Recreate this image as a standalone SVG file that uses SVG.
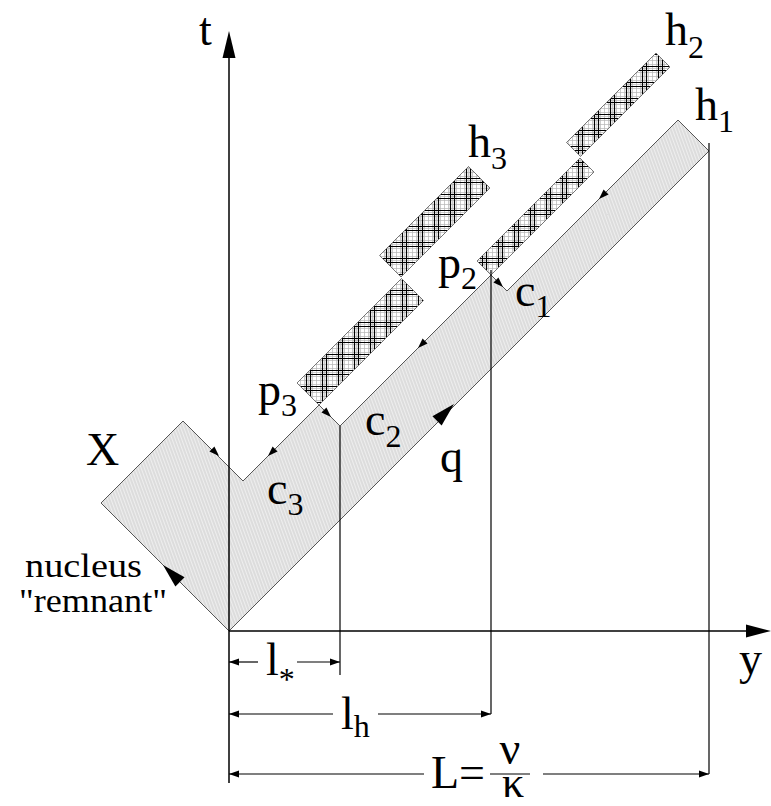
<svg xmlns="http://www.w3.org/2000/svg" width="771" height="806" viewBox="0 0 771 806">
<style>
.lbl{font-size:46px;fill:#000}
.sub{font-size:32px}
.ax{stroke:#000;stroke-width:1.5;fill:none}
.dim{stroke:#000;stroke-width:1.2;fill:none}
.region{fill:url(#gray);stroke:#555;stroke-width:1}
.bar{fill:url(#hatch);stroke:#777;stroke-width:1}
.ah{fill:#000}
</style>
<defs>
<pattern id="gray" patternUnits="userSpaceOnUse" width="3" height="3" patternTransform="rotate(-20)">
<rect width="3" height="3" fill="#eeeeee"/>
<line x1="1" y1="0" x2="1" y2="3" stroke="#c2c2c2" stroke-width="0.8"/>
</pattern>
<pattern id="hatch" patternUnits="userSpaceOnUse" width="16" height="16">
<rect width="16" height="16" fill="#fff"/>
<path d="M0.5 0V16M4.5 0V16M8.5 0V16M12.5 0V16M0 0.5H16M0 4.5H16M0 8.5H16M0 12.5H16" stroke="#b5b5b5" stroke-width="0.7"/>
<path d="M2.5 0V16M6.5 0V16M0 2.5H16M0 6.5H16" stroke="#000" stroke-width="1.2"/>
</pattern>
<path id="sa" d="M0,0 L-10,-3.5 L-10,3.5 Z"/>
<path id="ba" d="M0,0 L-24,-6.5 L-24,6.5 Z"/>
</defs>

<g id="region">
<polygon class="region" points="229,631 101,503 183,421 243,481 319,405 340,426 491,275 507,291 678,120 709,151"/>
</g>

<g id="bar-h2-upper"><polygon class="bar" points="656,53 670,67 580.5,156.5 566.5,142.5"/></g>
<g id="bar-h2-lower"><polygon class="bar" points="580,158 594,172 491,275 477,261"/></g>
<g id="bar-h3-upper"><polygon class="bar" points="468.5,166.5 490,188 401,277 379.5,255.5"/></g>
<g id="bar-h3-lower"><polygon class="bar" points="401.5,278.5 423.5,300.5 319,405 297,383"/></g>

<g id="axes">
<line class="ax" x1="229" y1="783" x2="229" y2="56"/>
<polygon class="ah" points="229,31 222.5,58 235.5,58"/>
<line class="ax" x1="229" y1="631" x2="748" y2="631"/>
<polygon class="ah" points="771,631 746,624.5 746,637.5"/>
</g>

<g id="connectors">
<line class="dim" x1="340" y1="426" x2="340" y2="675"/>
<line class="dim" x1="491" y1="270" x2="491" y2="714"/>
<line class="dim" x1="709" y1="143" x2="709" y2="774"/>
<line class="dim" x1="229" y1="662" x2="258" y2="662"/>
<line class="dim" x1="297" y1="662" x2="340" y2="662"/>
<use class="ah" href="#sa" transform="translate(229,662) rotate(180)"/>
<use class="ah" href="#sa" transform="translate(340,662)"/>
<line class="dim" x1="229" y1="714" x2="333" y2="714"/>
<line class="dim" x1="378" y1="714" x2="491" y2="714"/>
<use class="ah" href="#sa" transform="translate(229,714) rotate(180)"/>
<use class="ah" href="#sa" transform="translate(491,714)"/>
<line class="dim" x1="229" y1="774" x2="424" y2="774"/>
<line class="dim" x1="543" y1="774" x2="709" y2="774"/>
<use class="ah" href="#sa" transform="translate(229,774) rotate(180)"/>
<use class="ah" href="#sa" transform="translate(709,774)"/>
<use class="ah" href="#sa" transform="translate(599,199) rotate(135)"/>
<use class="ah" href="#sa" transform="translate(418,348) rotate(135)"/>
<use class="ah" href="#sa" transform="translate(503,287) rotate(45)"/>
<use class="ah" href="#sa" transform="translate(331,417) rotate(45)"/>
<use class="ah" href="#sa" transform="translate(268,456) rotate(135)"/>
<use class="ah" href="#sa" transform="translate(219,456) rotate(45)"/>
<use class="ah" href="#ba" transform="translate(163,565) rotate(225)"/>
<use class="ah" href="#ba" transform="translate(454,404) rotate(-45)"/>
<line class="dim" x1="490" y1="774" x2="530" y2="774"/>
</g>

<g id="labels" font-family="Liberation Serif, Times New Roman, serif">
<text class="lbl" x="199" y="45">t</text>
<text class="lbl" x="739" y="674">y</text>
<text class="lbl" x="665" y="45">h<tspan class="sub" dy="13">2</tspan></text>
<text class="lbl" x="695" y="120">h<tspan class="sub" dy="12">1</tspan></text>
<text class="lbl" x="468" y="157">h<tspan class="sub" dy="12">3</tspan></text>
<text class="lbl" x="438" y="278">p<tspan class="sub" dy="11">2</tspan></text>
<text class="lbl" x="515" y="306">c<tspan class="sub" dy="11">1</tspan></text>
<text class="lbl" x="258" y="405">p<tspan class="sub" dy="11">3</tspan></text>
<text class="lbl" x="365" y="435">c<tspan class="sub" dy="12">2</tspan></text>
<text class="lbl" x="267" y="504">c<tspan class="sub" dy="11">3</tspan></text>
<text class="lbl" x="440" y="472">q</text>
<text class="lbl" x="86" y="465">X</text>
<text class="lbl" x="25" y="577" style="font-size:33px" textLength="117" lengthAdjust="spacingAndGlyphs">nucleus</text>
<text class="lbl" x="19" y="612" style="font-size:33px" textLength="148" lengthAdjust="spacingAndGlyphs">"remnant"</text>
<text class="lbl" x="266" y="675">l<tspan class="sub" dy="15">*</tspan></text>
<text class="lbl" x="341" y="729">l<tspan class="sub" dy="8">h</tspan></text>
<text class="lbl" x="431" y="788">L=</text>
<text class="lbl" x="510" y="764" text-anchor="middle">ν</text>
<text class="lbl" x="513" y="797" text-anchor="middle" style="font-size:44px">κ</text>
</g>
</svg>
